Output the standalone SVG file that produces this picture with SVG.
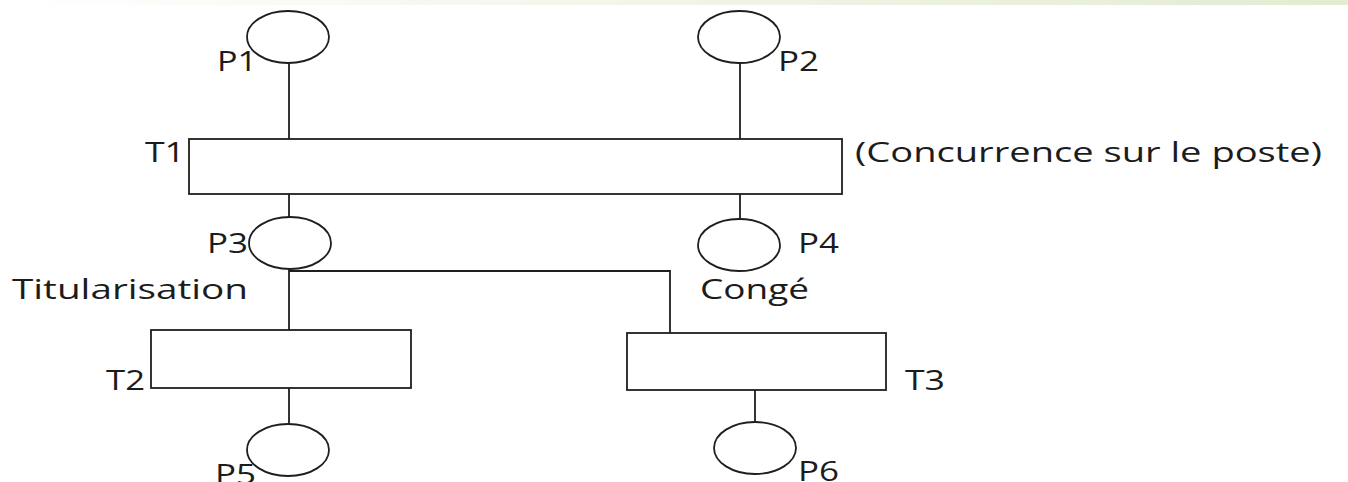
<svg xmlns="http://www.w3.org/2000/svg" width="1348" height="482" viewBox="0 0 1348 482">
<defs>
<linearGradient id="band" x1="0" y1="0" x2="1" y2="0">
<stop offset="0" stop-color="#ffffff"/>
<stop offset="0.3" stop-color="#f7f9f1"/>
<stop offset="1" stop-color="#e3ebd2"/>
</linearGradient>
</defs>
<style>
.s{fill:#fff;stroke:#1e1e1e;stroke-width:1.8}
.c{fill:none;stroke:#1e1e1e;stroke-width:1.8}
.t{font-family:"Open Sans","Noto Sans",sans-serif;font-size:27px;fill:#1c1c1c}
</style>
<rect x="0" y="0" width="1348" height="482" fill="#fff"/>
<rect x="0" y="0" width="1348" height="5" fill="url(#band)"/>
<g id="connectors">
<path class="c" d="M289 63V139"/>
<path class="c" d="M740 63V139"/>
<path class="c" d="M289 194V217"/>
<path class="c" d="M740 194V219"/>
<path class="c" d="M289 269V330"/>
<path class="c" d="M289 271H670V333"/>
<path class="c" d="M289 388V424"/>
<path class="c" d="M755 390V422"/>
</g>
<g id="P1"><ellipse class="s" cx="288" cy="37" rx="41" ry="26"/><text class="t" x="217" y="71" textLength="40" lengthAdjust="spacingAndGlyphs">P1</text></g>
<g id="P2"><ellipse class="s" cx="739" cy="37" rx="41" ry="26"/><text class="t" x="778" y="71" textLength="41" lengthAdjust="spacingAndGlyphs">P2</text></g>
<g id="T1"><rect class="s" x="189" y="139" width="653" height="55"/><text class="t" x="145" y="162" textLength="40" lengthAdjust="spacingAndGlyphs">T1</text><text class="t" x="855" y="162" textLength="467" lengthAdjust="spacingAndGlyphs">(Concurrence sur le poste)</text></g>
<g id="P3"><ellipse class="s" cx="290" cy="243" rx="41" ry="26"/><text class="t" x="207" y="253" textLength="41" lengthAdjust="spacingAndGlyphs">P3</text><text class="t" x="12" y="299" textLength="236" lengthAdjust="spacingAndGlyphs">Titularisation</text></g>
<g id="P4"><ellipse class="s" cx="739" cy="245" rx="41" ry="26"/><text class="t" x="798" y="253" textLength="41" lengthAdjust="spacingAndGlyphs">P4</text><text class="t" x="700" y="299" textLength="109" lengthAdjust="spacingAndGlyphs">Congé</text></g>
<g id="T2"><rect class="s" x="151" y="330" width="260" height="58"/><text class="t" x="106" y="390" textLength="39" lengthAdjust="spacingAndGlyphs">T2</text></g>
<g id="T3"><rect class="s" x="627" y="333" width="259" height="57"/><text class="t" x="905" y="390" textLength="40" lengthAdjust="spacingAndGlyphs">T3</text></g>
<g id="P5"><ellipse class="s" cx="288" cy="450" rx="41" ry="26"/><text class="t" x="215" y="484" textLength="41" lengthAdjust="spacingAndGlyphs">P5</text></g>
<g id="P6"><ellipse class="s" cx="755" cy="448" rx="41" ry="26"/><text class="t" x="798" y="481" textLength="41" lengthAdjust="spacingAndGlyphs">P6</text></g>
</svg>
